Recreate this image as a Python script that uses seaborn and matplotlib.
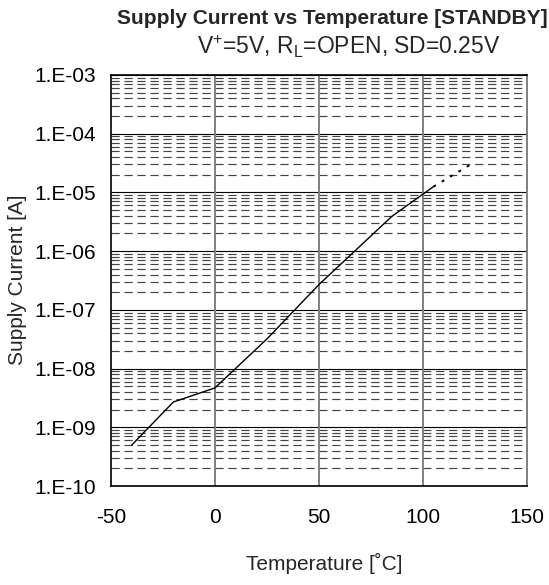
import matplotlib

matplotlib.use("Agg")
import matplotlib.pyplot as plt
import numpy as np
import pandas as pd
import seaborn as sns

# measured curve (solid)
temps = [-40, -20, 0, 25, 50, 85, 105]
currents = [5.0e-10, 2.7e-9, 4.7e-9, 3.2e-8, 2.7e-7, 3.9e-6, 1.25e-5]

# extrapolated part (dotted)
ext_temps = [105, 125]
ext_currents = [1.25e-5, 3.3e-5]

x_ticks = [-50, 0, 50, 100, 150]
decades = [-10, -9, -8, -7, -6, -5, -4, -3]

sns.set_style("white")
plt.rcParams["font.family"] = ["Liberation Sans", "DejaVu Sans"]
plt.rcParams["mathtext.fontset"] = "custom"
plt.rcParams["mathtext.rm"] = "Liberation Sans"
plt.rcParams["mathtext.it"] = "Liberation Sans"

fig = plt.figure(figsize=(5.49, 5.85), dpi=100)
ax = fig.add_axes([0.202, 0.169, 0.758, 0.703])

measured = pd.DataFrame({"temp": temps, "current": currents})
extrap = pd.DataFrame({"temp": ext_temps, "current": ext_currents})

ax.set_yscale("log")
ax.set_xlim(-50, 150)
ax.set_ylim(1e-10, 1e-3)

# grid: dashed minor, solid major
for d in decades[:-1]:
    for m in range(2, 10):
        ax.axhline(m * 10.0 ** d, color="#444444", lw=0.85,
                   linestyle=(0, (7, 4)), zorder=1)
for d in decades:
    ax.axhline(10.0 ** d, color="black", lw=0.8, zorder=2)
for t in x_ticks[1:-1]:
    ax.axvline(t, color="#808080", lw=1.4, zorder=2)

sns.lineplot(data=measured, x="temp", y="current", ax=ax,
             color="black", lw=1.0, zorder=5)
sns.lineplot(data=extrap, x="temp", y="current", ax=ax,
             color="black", lw=1.4, linestyle=(0, (1.5, 3.5)), zorder=5)

ax.set_xticks(x_ticks)
ax.set_xticklabels([str(t) for t in x_ticks])
ax.set_yticks([10.0 ** d for d in decades])
ax.set_yticklabels([f"1.E-{abs(d):02d}" for d in decades])
ax.yaxis.set_minor_locator(matplotlib.ticker.NullLocator())
ax.tick_params(axis="both", length=0, labelsize=15, colors="black")
ax.tick_params(axis="x", pad=16)
ax.tick_params(axis="y", pad=11)

for side in ["left", "bottom", "top"]:
    ax.spines[side].set_color("black")
    ax.spines[side].set_linewidth(1.2)
ax.spines["right"].set_color("#808080")
ax.spines["right"].set_linewidth(1.4)

ax.set_xlabel("")
ax.set_ylabel("")
fig.text(324 / 549, 1 - 563 / 585, "Temperature [˚C]", ha="center",
         va="center", fontsize=15)
fig.text(18 / 549, 1 - 280 / 585, "Supply Current [A]", ha="center",
         va="center", fontsize=15, rotation=90)

fig.text(332 / 549, 1 - 18 / 585, "Supply Current vs Temperature [STANDBY]",
         ha="center", va="center", fontsize=15, fontweight="bold")
fig.text(349 / 549, 1 - 47 / 585, r"V$^{+}$=5V, R$_{\mathrm{L}}$=OPEN, SD=0.25V",
         ha="center", va="center", fontsize=16.5)

fig.savefig("out.png", dpi=100)
